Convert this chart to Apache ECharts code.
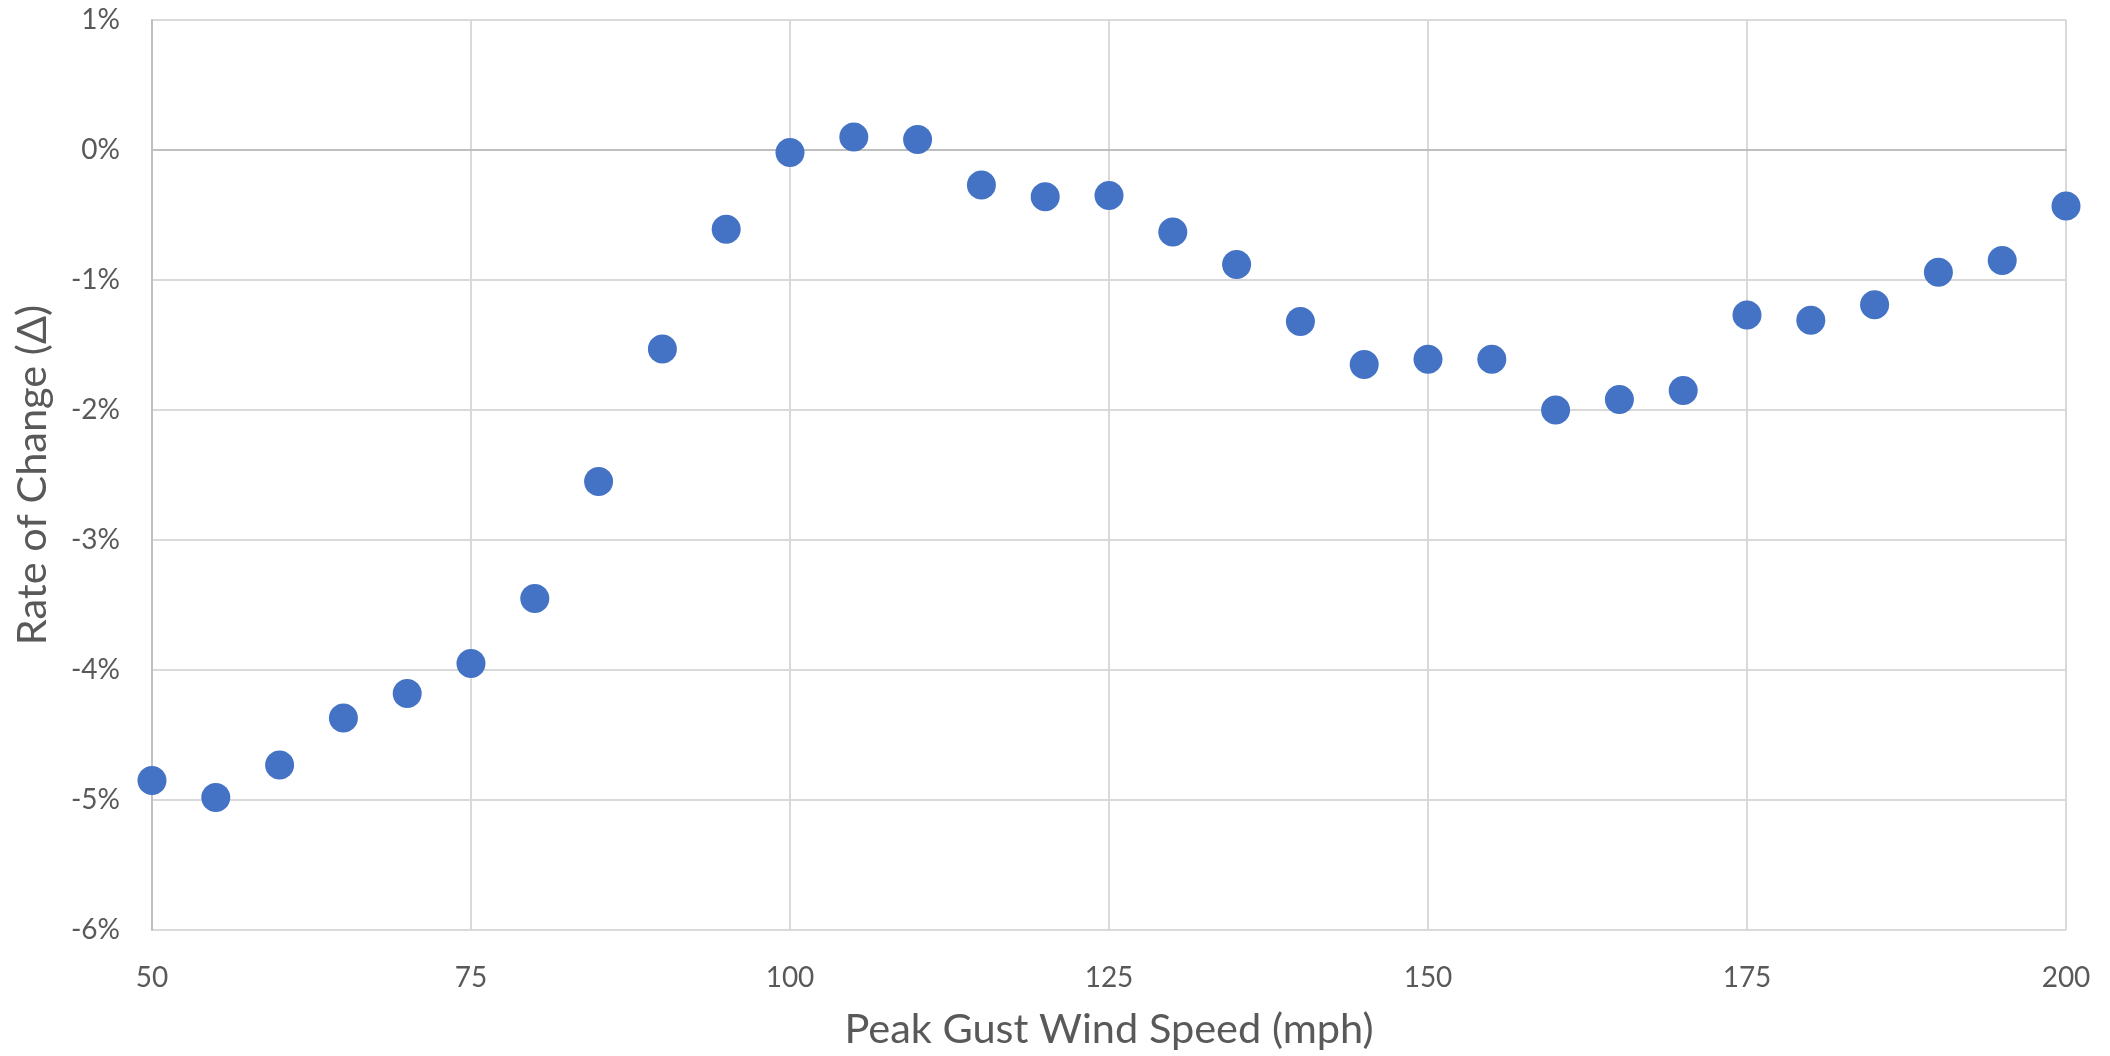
<!DOCTYPE html>
<html>
<head>
<meta charset="utf-8">
<script src="https://cdn.jsdelivr.net/npm/echarts@6/dist/echarts.min.js"></script>
<style>
html,body{margin:0;padding:0;background:#fff;}
#chart{width:2110px;height:1056px;}
</style>
</head>
<body>
<div id="chart"></div>
<script>
// Data
const windSpeeds = [50,55,60,65,70,75,80,85,90,95,100,105,110,115,120,125,130,135,140,145,150,155,160,165,170,175,180,185,190,195,200];
const rateOfChange = [-4.85,-4.98,-4.73,-4.37,-4.18,-3.95,-3.45,-2.55,-1.53,-0.61,-0.02,0.10,0.08,-0.27,-0.36,-0.35,-0.63,-0.88,-1.32,-1.65,-1.61,-1.61,-2.00,-1.92,-1.85,-1.27,-1.31,-1.19,-0.94,-0.85,-0.43];
const xAxisTitle = 'Peak Gust Wind Speed (mph)';
const yAxisTitle = 'Rate of Change (Δ)';

const points = windSpeeds.map((x, i) => [x, rateOfChange[i]]);
const fontFam = 'Lato';
const chart = echarts.init(document.getElementById('chart'), null, {renderer: 'canvas'});
chart.setOption({
  animation: false,
  backgroundColor: '#ffffff',
  grid: {left: 152, right: 44, top: 20, bottom: 124, containLabel: false},
  xAxis: {
    type: 'value', min: 50, max: 200, interval: 25,
    name: xAxisTitle, nameLocation: 'middle', nameGap: 79,
    nameTextStyle: {fontFamily: fontFam, fontSize: 41.5, color: '#595959'},
    axisLine: {show: true, lineStyle: {color: '#bfbfbf', width: 2}},
    axisTick: {show: false},
    axisLabel: {fontFamily: fontFam, fontSize: 28, color: '#595959', margin: 34},
    splitLine: {show: true, lineStyle: {color: '#d9d9d9', width: 2}}
  },
  yAxis: {
    type: 'value', min: -6, max: 1, interval: 1,
    name: yAxisTitle, nameLocation: 'middle', nameGap: 98, nameRotate: 90,
    nameTextStyle: {fontFamily: fontFam, fontSize: 41.5, color: '#595959'},
    axisLine: {show: true, lineStyle: {color: '#bfbfbf', width: 2}},
    axisTick: {show: false},
    axisLabel: {fontFamily: fontFam, fontSize: 28, color: '#595959', margin: 32, formatter: '{value}%'},
    splitLine: {show: true, lineStyle: {color: '#d9d9d9', width: 2}}
  },
  series: [{
    type: 'scatter',
    data: points,
    symbol: 'circle',
    symbolSize: 29,
    itemStyle: {color: '#4472c4', opacity: 1}
  }]
});
</script>
</body>
</html>
